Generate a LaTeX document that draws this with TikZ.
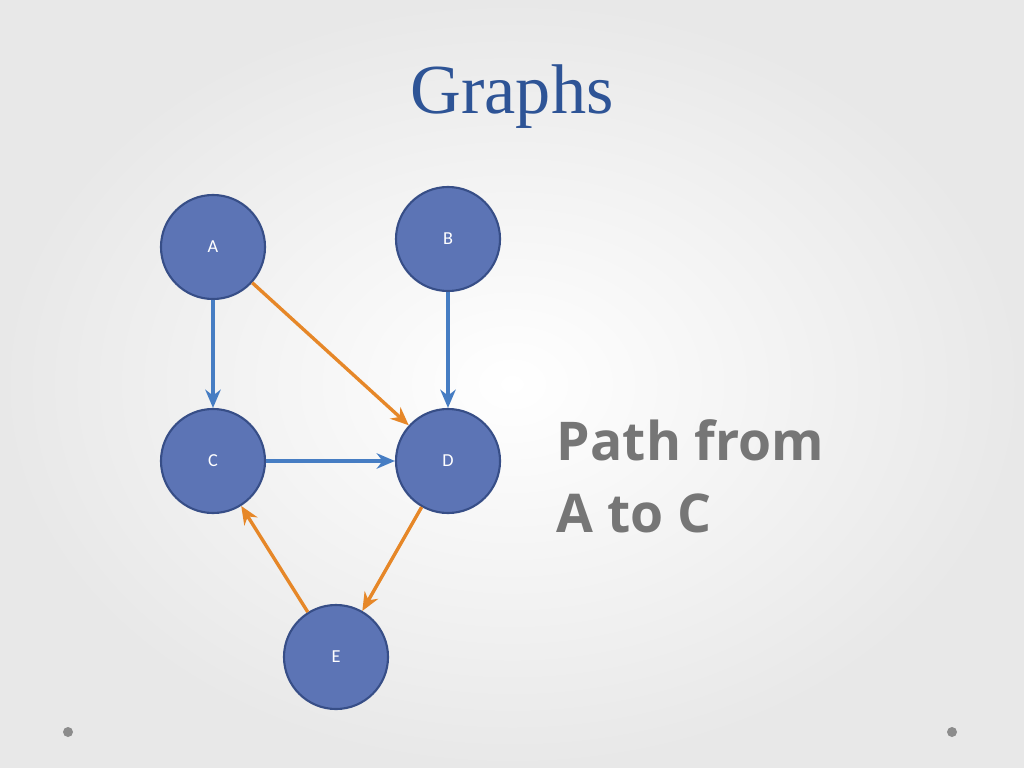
\documentclass[tikz,border=0pt]{standalone}
\usepackage{fontspec}
\setmainfont{Liberation Serif}
\setsansfont{Carlito}
\newfontfamily\captionfont{Open Sans}
\usetikzlibrary{arrows.meta, positioning}
\definecolor{nodefill}{RGB}{92,116,181}
\definecolor{nodeedge}{RGB}{55,78,135}
\definecolor{bluearrow}{RGB}{70,125,195}
\definecolor{orangearrow}{RGB}{230,135,40}
\definecolor{titleblue}{RGB}{46,84,150}
\definecolor{textgray}{RGB}{118,118,118}
\tikzstyle{vertex} = [circle, minimum size=2.6cm, fill=nodefill, draw=nodeedge, line width=1.5pt, text=white, font=\sffamily\fontsize{13}{15}\selectfont]
\tikzstyle{edge} = [line width=2.4pt, -{Stealth[length=13pt, width=11pt]}]

\begin{document}
\begin{tikzpicture}[x=0.025cm, y=-0.025cm]

% Background
\shade[inner color=white, outer color=black!9] (0,0) rectangle (1024,768);
\useasboundingbox (0,0) rectangle (1024,768);

% Title
\node[font=\fontsize{50}{54}\selectfont, text=titleblue] (title) at (512,97) {Graphs};

% Vertices
\node[vertex] (a) at (213,247) {A};
\node[vertex] (b) at (448,239) {B};
\node[vertex] (c) at (213,461) {C};
\node[vertex] (d) at (448,461) {D};
\node[vertex] (e) at (336,657) {E};

% Edges
\draw[edge, bluearrow] (a) -- (c);
\draw[edge, bluearrow] (b) -- (d);
\draw[edge, bluearrow] (c) -- (d);
\draw[edge, orangearrow] (a) -- (d);
\draw[edge, orangearrow] (d) -- (e);
\draw[edge, orangearrow] (e) -- (c);

% Caption
\node[anchor=west, align=left, text=textgray, font=\captionfont\bfseries\fontsize{38}{51}\selectfont] (caption) at (552,476) {Path from\\A to C};

% Corner dots
\fill[black!45] (68,732) circle (5);
\fill[black!45] (952,732) circle (5);

\end{tikzpicture}
\end{document}
